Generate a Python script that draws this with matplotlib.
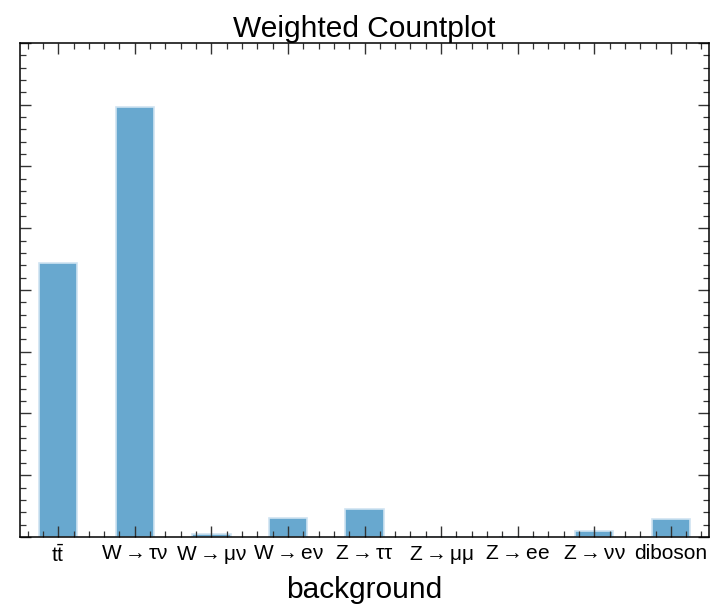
import matplotlib
matplotlib.use("Agg")
import matplotlib.pyplot as plt
from matplotlib.ticker import MultipleLocator, NullFormatter

# weighted event counts per background (arbitrary units)
backgrounds = [r"$t\bar{t}$", r"$W\rightarrow\tau\nu$", r"$W\rightarrow\mu\nu$",
               r"$W\rightarrow e\nu$", r"$Z\rightarrow\tau\tau$", r"$Z\rightarrow\mu\mu$",
               r"$Z\rightarrow ee$", r"$Z\rightarrow\nu\nu$", "diboson"]
weights = [4.44, 6.96, 0.055, 0.31, 0.46, 0.0, 0.0, 0.10, 0.29]

plt.rcParams["font.family"] = ["Liberation Sans", "DejaVu Sans"]
plt.rcParams["mathtext.fontset"] = "custom"
plt.rcParams["mathtext.rm"] = "Liberation Sans"
plt.rcParams["mathtext.it"] = "Liberation Sans"
plt.rcParams["mathtext.default"] = "regular"

fig = plt.figure(figsize=(7.12, 6.04), dpi=100)
ax = fig.add_axes([0.028, 0.111, 0.968, 0.818])

x = range(len(backgrounds))
ax.bar(x, weights, width=0.5, color="#68a8cf", edgecolor="#cfe3f1", linewidth=1.2)

ax.set_xlim(-0.5, len(backgrounds) - 0.5)
ax.set_ylim(0, 8)
ax.set_xticks(list(x))
ax.set_xticklabels(backgrounds, fontsize=15)
ax.xaxis.set_minor_locator(MultipleLocator(0.2))
ax.yaxis.set_major_locator(MultipleLocator(1))
ax.yaxis.set_minor_locator(MultipleLocator(0.2))
ax.yaxis.set_major_formatter(NullFormatter())
ax.tick_params(which="both", direction="in", top=True, right=True, color="#333333")
ax.tick_params(which="major", length=8, width=1)
ax.tick_params(which="minor", length=4, width=0.9)
ax.tick_params(axis="x", pad=5)
for s in ax.spines.values():
    s.set_linewidth(1.1)

ax.set_xlabel("background", fontsize=21.5, labelpad=7)
ax.set_title("Weighted Countplot", fontsize=21.5, pad=4)

fig.savefig("out.png", dpi=100)
